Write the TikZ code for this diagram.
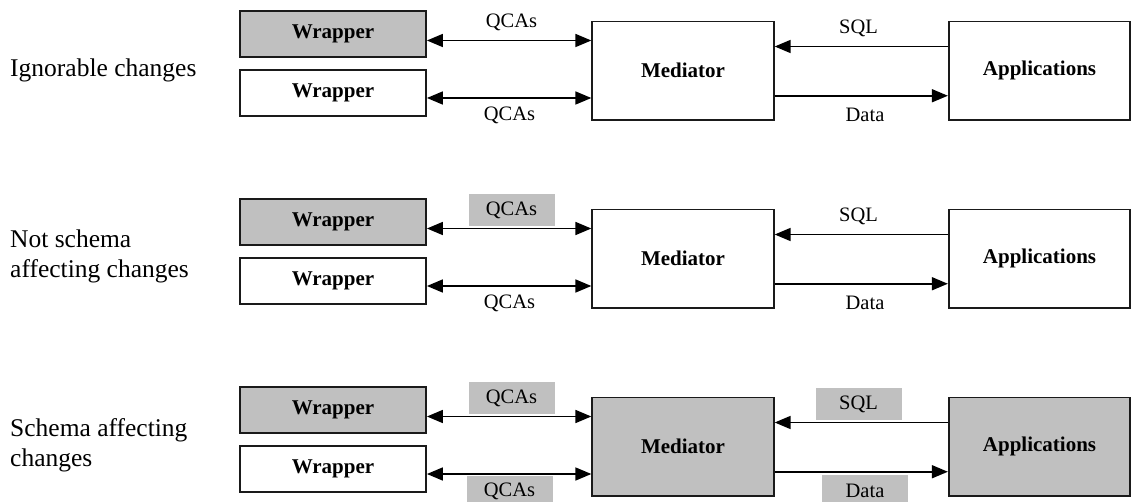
\documentclass[tikz,border=0pt]{standalone}
\usepackage{fontspec}
\setmainfont{Liberation Serif}
\usetikzlibrary{arrows.meta}
\definecolor{shade}{HTML}{C0C0C0}
\definecolor{edge}{HTML}{1A1A1A}

\tikzset{
  box/.style={draw=edge, line width=1.8pt, inner sep=0pt,
    font=\fontsize{21}{25}\selectfont\bfseries},
  wrapbox/.style={box, minimum width=186pt, minimum height=46pt},
  bigbox/.style={box, minimum width=181.5pt, minimum height=98.5pt},
  plain/.style={fill=white},
  shaded/.style={fill=shade},
  tag/.style={font=\fontsize{20.5}{24}\selectfont, inner sep=0pt,
    minimum width=86pt, minimum height=31.5pt},
  taggray/.style={tag, fill=shade},
  rowlabel/.style={font=\fontsize{25.5}{30}\selectfont, align=left,
    anchor=base west, inner sep=0pt},
  tip/.tip={Triangle[length=16pt, width=13pt]},
  link/.style={line width=1.7pt, -tip},
  duplex/.style={line width=1.7pt, tip-tip},
}

% One row: wrappers, mediator and applications with their connectors.
% #1 name suffix, #2 vertical offset, #3 top QCAs style, #4 bottom QCAs style,
% #5 SQL style, #6 Data style, #7 fill of mediator and applications
\newcommand\changerow[7]{%
  \begin{scope}[shift={(0,#2)}]
    \node[wrapbox, shaded] (wa#1) at (333,34) {Wrapper};
    \node[wrapbox, plain]  (wb#1) at (333,93) {Wrapper};
    \node[bigbox, #7] (med#1) at (683,70.75) {Mediator};
    \node[bigbox, #7] (app#1) at (1039.5,70.75) {Applications};
    \draw[duplex] ([yshift=-6.5pt]wa#1.east) coordinate (qa#1) -- (qa#1 -| med#1.west);
    \draw[duplex] ([yshift=-5pt]wb#1.east) coordinate (qb#1) -- (qb#1 -| med#1.west);
    \draw[link] ([yshift=24.25pt]app#1.west) coordinate (sq#1) -- (sq#1 -| med#1.east);
    \draw[link] ([yshift=-25pt]med#1.east) coordinate (dt#1) -- (dt#1 -| app#1.west);
    \node[#3] (lqa#1) at (511.5,22) {QCAs};
    \node[#4] (lqb#1) at (509.5,115.75) {QCAs};
    \node[#5] (lsq#1) at (858.5,28) {SQL};
    \node[#6] (ldt#1) at (865,115) {Data};
  \end{scope}}

\begin{document}
\begin{tikzpicture}[x=1pt, y=-1pt]
  \useasboundingbox (0,0) rectangle (1131,502);
  \clip (0,0) rectangle (1131,502);

  \changerow{1}{0}{tag}{tag}{tag}{tag}{plain}
  \changerow{2}{188}{taggray}{tag}{tag}{tag}{plain}
  \changerow{3}{376}{taggray}{taggray}{taggray}{taggray}{shaded}

  % multi-line labels are anchored on the baseline of their last line
  \node[rowlabel] (r1) at (10,77) {Ignorable changes};
  \node[rowlabel] (r2) at (10,278) {Not schema\\affecting changes};
  \node[rowlabel] (r3) at (10,466) {Schema affecting\\changes};
\end{tikzpicture}
\end{document}
